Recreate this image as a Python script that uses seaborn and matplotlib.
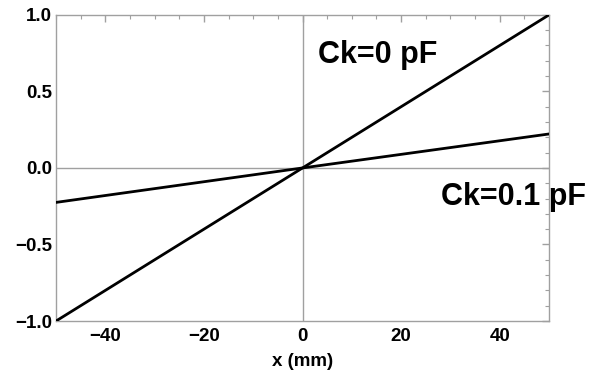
import matplotlib
matplotlib.use("Agg")
import matplotlib.pyplot as plt
from matplotlib.ticker import MultipleLocator
import seaborn as sns
import pandas as pd

sns.set_theme(style="white")
plt.rcParams["font.family"] = ["Liberation Sans", "DejaVu Sans"]
plt.rcParams["text.color"] = "black"
plt.rcParams["xtick.labelcolor"] = "black"
plt.rcParams["ytick.labelcolor"] = "black"
plt.rcParams["axes.labelcolor"] = "black"

# Response vs. position for two coupling capacitances
x_mm = [-50, 0, 50]
resp_ck0 = [-1.0, 0.0, 1.0]
resp_ck01 = [-0.225, 0.0, 0.222]
labels = ["Ck=0 pF", "Ck=0.1 pF"]

df = pd.concat([
    pd.DataFrame({"x": x_mm, "y": resp_ck0, "series": labels[0]}),
    pd.DataFrame({"x": x_mm, "y": resp_ck01, "series": labels[1]}),
])

W, H = 592, 372
fig = plt.figure(figsize=(W / 100, H / 100), dpi=100)
ax = fig.add_axes([0.0946, 0.137, 0.8328, 0.823])

ax.axhline(0, color="#a0a0a0", lw=1.0, zorder=1)
ax.axvline(0, color="#a0a0a0", lw=1.0, zorder=1)

sns.lineplot(data=df, x="x", y="y", hue="series", palette=["black", "black"],
             linewidth=2.0, legend=False, ax=ax, zorder=3)

ax.set_xlim(-50, 50)
ax.set_ylim(-1.0, 1.0)
ax.xaxis.set_major_locator(MultipleLocator(20))
ax.xaxis.set_minor_locator(MultipleLocator(5))
ax.yaxis.set_major_locator(MultipleLocator(0.5))
ax.yaxis.set_minor_locator(MultipleLocator(0.1))

for s in ax.spines.values():
    s.set_color("#a0a0a0")
    s.set_linewidth(1.0)
ax.tick_params(which="both", direction="in", top=True, right=True, color="#a0a0a0",
               labelsize=13.5)
ax.tick_params(axis="y", pad=3)
ax.tick_params(axis="x", pad=5)
ax.tick_params(which="major", length=5, width=1.0)
ax.tick_params(which="minor", length=3, width=0.8)
for lab in ax.get_xticklabels() + ax.get_yticklabels():
    lab.set_fontweight("bold")

ax.set_xlabel("x (mm)", fontsize=13.5, fontweight="bold", labelpad=5.5)
ax.set_ylabel("")

# Curve annotations placed in figure pixel coordinates (origin top-left)
fig.text(318 / W, 1 - 55 / H, labels[0], fontsize=22, fontweight="bold",
         va="center", ha="left")
fig.text(441 / W, 1 - 197 / H, labels[1], fontsize=22, fontweight="bold",
         va="center", ha="left")

fig.savefig("out.png", dpi=100)
